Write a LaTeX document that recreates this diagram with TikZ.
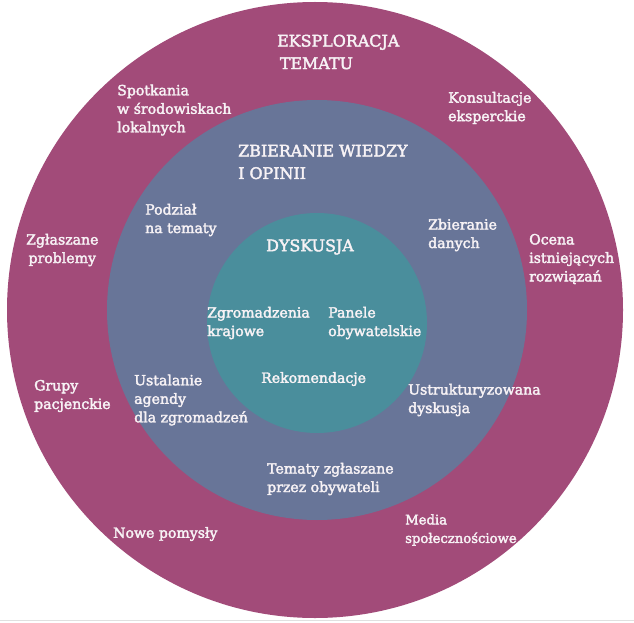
\documentclass[tikz,border=0pt]{standalone}
\usepackage{fontspec}
\setmainfont{DejaVu Serif}
\newfontfamily\lblfont{DejaVu Serif}[FakeBold=2.5]
\definecolor{outerc}{HTML}{A24B79}
\definecolor{midc}{HTML}{687598}
\definecolor{innerc}{HTML}{4A8E9C}
\definecolor{txt}{HTML}{F7F2F5}
\begin{document}
\begin{tikzpicture}[x=1pt,y=-1pt,
  lbl/.style={text=txt,inner sep=0pt,anchor=west,align=left,font=\lblfont\fontsize{14.1}{18.5}\selectfont},
  ttl/.style={text=txt,inner sep=0pt,anchor=west,align=left,font=\lblfont\fontsize{15.9}{22.5}\selectfont}]
\useasboundingbox (0,0) rectangle (634,623);
\fill[white] (0,0) rectangle (634,623);
\draw[black!12,line width=1pt] (0,620.5) -- (634,620.5);
\fill[outerc] (315,310) circle (308);
\fill[midc] (317,310) circle (210);
\fill[innerc] (317,323) circle (110);
% outer ring
\node[ttl] (eks) at (277,52) {EKSPLORACJA\\\,TEMATU};
\node[lbl] (spot) at (117,110) {Spotkania\\w środowiskach\\lokalnych};
\node[lbl] (kons) at (448,108) {Konsultacje\\eksperckie};
\node[lbl] (zgl) at (26,250) {Zgłaszane\\\,problemy};
\node[lbl] (ocena) at (529,259) {Ocena\\istniejących\\rozwiązań};
\node[lbl] (grupy) at (34,396) {Grupy\\pacjenckie};
\node[lbl] (nowe) at (113,534) {Nowe pomysły};
\node[lbl,font=\lblfont\fontsize{13.2}{18.5}\selectfont] (media) at (405,530) {Media\\społecznościowe};
% middle ring
\node[ttl] (zbw) at (238,162) {ZBIERANIE WIEDZY\\I OPINII};
\node[lbl] (podz) at (145,220) {Podział\\na tematy};
\node[lbl] (zbd) at (428,235) {Zbieranie\\danych};
\node[lbl] (ust) at (134,400) {Ustalanie\\agendy\\dla zgromadzeń};
\node[lbl] (ustr) at (408,400) {Ustrukturyzowana\\dyskusja};
\node[lbl] (tem) at (267,479) {Tematy zgłaszane\\przez obywateli};
% inner circle
\node[ttl] (dys) at (266,247) {DYSKUSJA};
\node[lbl] (zgr) at (207,323) {Zgromadzenia\\krajowe};
\node[lbl] (pan) at (328,323) {Panele\\obywatelskie};
\node[lbl] (rek) at (261,379) {Rekomendacje};
\end{tikzpicture}
\end{document}
